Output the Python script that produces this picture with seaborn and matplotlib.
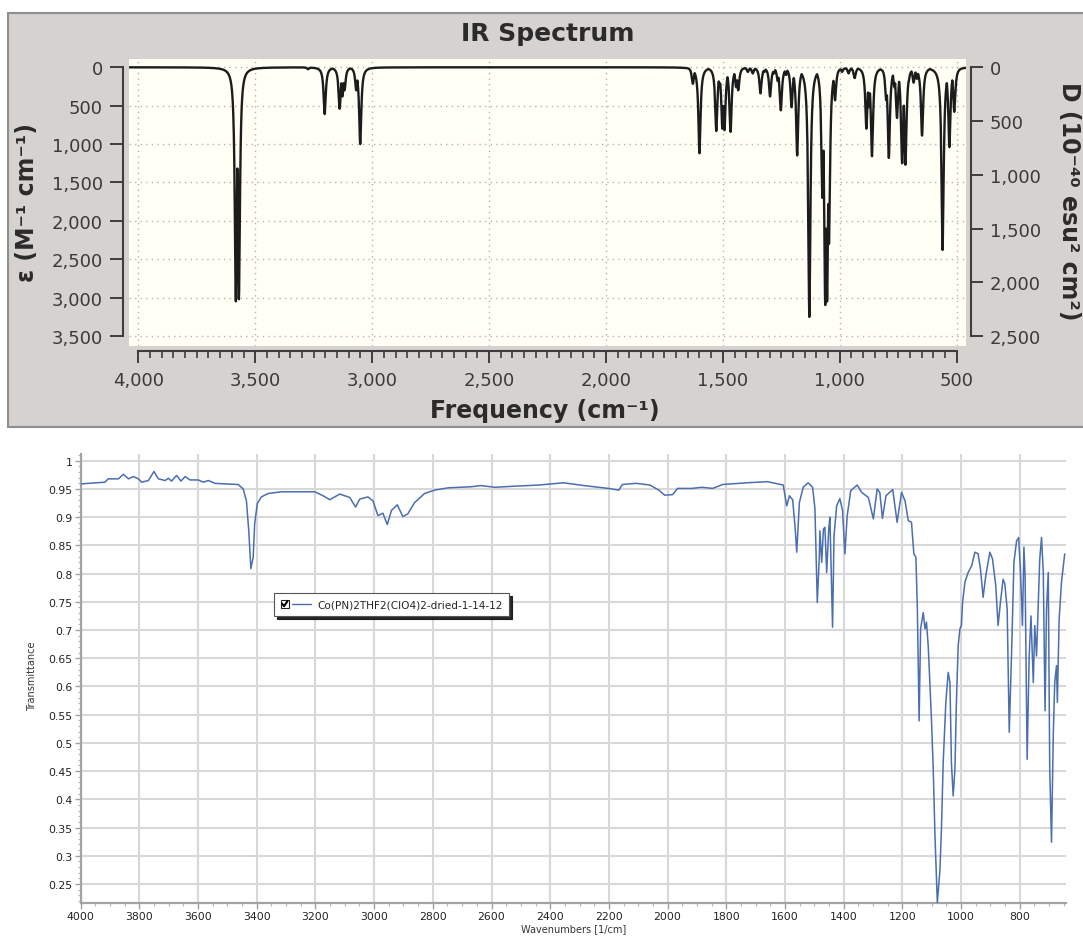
import numpy as np
import matplotlib
matplotlib.use("Agg")
import matplotlib.pyplot as plt
from matplotlib.patches import Rectangle
from matplotlib.lines import Line2D
from matplotlib.legend_handler import HandlerBase
from matplotlib.ticker import FuncFormatter, MultipleLocator
import seaborn as sns

# ---------------------------------------------------------------------------
# Computed IR spectrum: band centres (cm^-1) and molar absorptivity maxima
# ---------------------------------------------------------------------------
band_freq = [3583, 3570, 3274, 3203, 3139, 3127, 3118, 3068, 3051,
             1628, 1600, 1528, 1514, 1502, 1493, 1467, 1443, 1434, 1393,
             1372, 1339, 1322, 1298, 1282, 1265, 1252, 1230, 1206, 1182,
             1130, 1109, 1074, 1062, 1054, 1046, 1020, 990, 962, 936,
             886, 875, 862, 801, 790, 766, 755, 733, 719, 705,
             684, 670, 648, 578, 560, 531, 510]
band_eps = [3050, 3020, 25, 610, 540, 380, 300, 300, 1000,
            215, 1120, 830, 250, 800, 820, 840, 260, 300, 60,
            80, 340, 60, 380, 80, 180, 560, 100, 520, 1150,
            3250, 180, 1700, 3100, 3050, 2300, 430, 60, 80, 140,
            800, 520, 1160, 430, 1180, 260, 660, 1250, 1270, 180,
            200, 150, 890, 40, 2380, 1040, 580]
band_hwhm = 5.5  # Lorentzian half width at half height, cm^-1

freq_ticks = [4000, 3500, 3000, 2500, 2000, 1500, 1000, 500]
eps_ticks = [0, 500, 1000, 1500, 2000, 2500, 3000, 3500]
dip_ticks = [0, 500, 1000, 1500, 2000, 2500]

# ---------------------------------------------------------------------------
# Measured FTIR trace (transmittance)
# ---------------------------------------------------------------------------
sample_name = "Co(PN)2THF2(ClO4)2-dried-1-14-12"
meas_wavenumber = [
    4000, 3917, 3906, 3871, 3854, 3837, 3820, 3803, 3792, 3769,
    3750, 3735, 3712, 3701, 3690, 3673, 3658, 3644, 3627, 3599,
    3582, 3565, 3542, 3508, 3463, 3446, 3435, 3427, 3420, 3412,
    3407, 3398, 3384, 3361, 3316, 3202, 3174, 3151, 3117, 3083,
    3063, 3049, 3021, 3004, 2987, 2970, 2955, 2941, 2921, 2902,
    2885, 2862, 2828, 2794, 2748, 2669, 2635, 2589, 2520, 2438,
    2355, 2284, 2202, 2166, 2154, 2107, 2060, 2030, 2010, 1983,
    1966, 1918, 1883, 1847, 1812, 1729, 1659, 1651, 1606, 1594,
    1585, 1574, 1566, 1560, 1551, 1538, 1521, 1506, 1498, 1490,
    1483, 1481, 1475, 1469, 1464, 1458, 1451, 1447, 1438, 1433,
    1424, 1413, 1404, 1396, 1388, 1376, 1354, 1339, 1316, 1299,
    1286, 1277, 1268, 1256, 1233, 1218, 1203, 1191, 1180, 1169,
    1161, 1154, 1149, 1143, 1138, 1129, 1123, 1118, 1112, 1101,
    1095, 1089, 1081, 1072, 1067, 1061, 1052, 1044, 1038, 1033,
    1027, 1021, 1016, 1010, 1004, 999, 995, 987, 976, 970,
    964, 953, 942, 934, 925, 916, 902, 893, 882, 874,
    866, 857, 851, 843, 836, 828, 820, 811, 804, 798,
    791, 786, 782, 775, 768, 762, 754, 749, 743, 737,
    732, 726, 720, 714, 709, 703, 698, 692, 686, 681,
    675, 672, 666, 658, 647]
meas_transmittance = [
    0.959, 0.962, 0.968, 0.968, 0.976, 0.968, 0.972, 0.968, 0.962, 0.965,
    0.981, 0.968, 0.965, 0.969, 0.964, 0.974, 0.964, 0.972, 0.966, 0.966,
    0.962, 0.965, 0.960, 0.959, 0.958, 0.950, 0.929, 0.876, 0.809, 0.829,
    0.888, 0.924, 0.936, 0.942, 0.945, 0.945, 0.938, 0.931, 0.941, 0.935,
    0.918, 0.932, 0.936, 0.929, 0.903, 0.907, 0.887, 0.912, 0.922, 0.901,
    0.906, 0.926, 0.942, 0.948, 0.952, 0.954, 0.956, 0.953, 0.955, 0.957,
    0.961, 0.956, 0.951, 0.948, 0.958, 0.960, 0.957, 0.948, 0.939, 0.940,
    0.951, 0.951, 0.953, 0.951, 0.958, 0.961, 0.963, 0.962, 0.957, 0.920,
    0.938, 0.931, 0.885, 0.838, 0.926, 0.953, 0.961, 0.953, 0.915, 0.749,
    0.832, 0.876, 0.820, 0.879, 0.882, 0.802, 0.879, 0.900, 0.705, 0.867,
    0.920, 0.933, 0.912, 0.835, 0.903, 0.947, 0.957, 0.944, 0.935, 0.897,
    0.950, 0.944, 0.898, 0.938, 0.949, 0.891, 0.944, 0.929, 0.894, 0.891,
    0.835, 0.829, 0.737, 0.539, 0.702, 0.731, 0.702, 0.714, 0.672, 0.542,
    0.454, 0.335, 0.217, 0.276, 0.347, 0.465, 0.572, 0.625, 0.607, 0.465,
    0.406, 0.454, 0.572, 0.672, 0.702, 0.708, 0.749, 0.785, 0.802, 0.808,
    0.814, 0.838, 0.835, 0.808, 0.758, 0.796, 0.838, 0.826, 0.779, 0.708,
    0.749, 0.790, 0.782, 0.737, 0.519, 0.660, 0.820, 0.858, 0.864, 0.808,
    0.708, 0.847, 0.796, 0.471, 0.654, 0.725, 0.607, 0.708, 0.654, 0.749,
    0.826, 0.864, 0.802, 0.557, 0.737, 0.802, 0.454, 0.324, 0.513, 0.607,
    0.637, 0.572, 0.719, 0.785, 0.835]
wn_ticks = [4000, 3800, 3600, 3400, 3200, 3000, 2800, 2600, 2400, 2200,
            2000, 1800, 1600, 1400, 1200, 1000, 800]
t_ticks = [0.25, 0.3, 0.35, 0.4, 0.45, 0.5, 0.55, 0.6, 0.65, 0.7, 0.75,
           0.8, 0.85, 0.9, 0.95, 1.0]

# ---------------------------------------------------------------------------
sns.set_style("white")
plt.rcParams["font.family"] = ["DejaVu Sans"]

W, H = 1083, 937
fig = plt.figure(figsize=(W / 100, H / 100), dpi=100)
fig.patch.set_facecolor("white")


def fx(px):
    return px / W


def fy(py):
    return 1 - py / H


def pt(px):
    return px * 72 / 100


# grey window behind the computed spectrum
frame = Rectangle((fx(8), fy(428)), 1.2, (428 - 14) / H, transform=fig.transFigure,
                  facecolor="#d5d2cf", edgecolor="#8e8e8e", lw=1.5, zorder=0)
fig.add_artist(frame)

# ---------------------------- computed spectrum ----------------------------
ax1 = fig.add_axes([fx(129), fy(346.7), (966 - 129) / W, (346.7 - 60) / H])
ax1.set_facecolor("#fffff6")
for s in ax1.spines.values():
    s.set_visible(False)

grid_f = np.linspace(455, 4045, 7000)
centres = np.asarray(band_freq, dtype=float)[:, None]
heights = np.asarray(band_eps, dtype=float)[:, None]
profiles = heights * band_hwhm ** 2 / ((grid_f[None, :] - centres) ** 2 + band_hwhm ** 2)
eps_curve = profiles.max(axis=0)

sns.lineplot(x=grid_f, y=eps_curve, ax=ax1, color="#1c1c1c", lw=1.7, zorder=3)

eps_lo, eps_hi = -108, 3625
ax1.set_xlim(4040, 460)
ax1.set_ylim(eps_hi, eps_lo)
ax1.set_xlabel("")
ax1.set_ylabel("")

comma = FuncFormatter(lambda v, p: f"{v:,.0f}")
ax1.set_xticks(freq_ticks)
ax1.xaxis.set_minor_locator(MultipleLocator(50))
ax1.set_yticks(eps_ticks)
ax1.xaxis.set_major_formatter(comma)
ax1.yaxis.set_major_formatter(comma)

axis_col = "#3d3d3d"
for side, off in (("left", 6), ("bottom", 5)):
    sp = ax1.spines[side]
    sp.set_visible(True)
    sp.set_position(("outward", pt(off)))
    sp.set_color(axis_col)
    sp.set_linewidth(1.5)
ax1.spines["left"].set_bounds(0, 3500)
ax1.spines["bottom"].set_bounds(500, 4000)

ax1.tick_params(axis="x", which="major", bottom=True, length=pt(12), width=1.4,
                color=axis_col, labelsize=13, labelcolor="#3a3a3a", pad=6)
ax1.tick_params(axis="x", which="minor", bottom=True, length=pt(7), width=1.2,
                color=axis_col)
ax1.tick_params(axis="y", which="major", left=True, length=pt(13), width=1.4,
                color=axis_col, labelsize=13, labelcolor="#3a3a3a", pad=5)
ax1.grid(True, which="major", linestyle=(0, (1, 3)), color="#b3b3b3", lw=1.0)
ax1.set_axisbelow(True)

ax1r = ax1.twinx()
scale = 2500 / 3500
ax1r.set_ylim(eps_hi * scale, eps_lo * scale)
ax1r.set_yticks(dip_ticks)
ax1r.yaxis.set_major_formatter(comma)
for s in ax1r.spines.values():
    s.set_visible(False)
sp = ax1r.spines["right"]
sp.set_visible(True)
sp.set_position(("outward", pt(5)))
sp.set_bounds(0, 2500)
sp.set_color(axis_col)
sp.set_linewidth(1.5)
ax1r.tick_params(axis="y", which="major", right=True, length=pt(12), width=1.4,
                 color=axis_col, labelsize=13, labelcolor="#3a3a3a", pad=5)
ax1r.grid(False)

fig.text(fx(548), fy(34), "IR Spectrum", fontsize=18, fontweight="bold",
         color="#2b2b2b", ha="center", va="center")
fig.text(fx(545), fy(411), "Frequency (cm⁻¹)", fontsize=17,
         fontweight="bold", color="#2b2b2b", ha="center", va="center")
fig.text(fx(27), fy(203), "ε (M⁻¹ cm⁻¹)", fontsize=17,
         fontweight="bold", color="#2b2b2b", ha="center", va="center", rotation=90)
fig.text(fx(1069), fy(201), "D (10⁻⁴⁰ esu² cm²)",
         fontsize=17, fontweight="bold", color="#2b2b2b", ha="center", va="center",
         rotation=270)

# ---------------------------- measured spectrum ----------------------------
ax2 = fig.add_axes([fx(80.6), fy(904), (1066 - 80.6) / W, (904 - 455) / H])
ax2.set_facecolor("white")
line_col = "#4a6eb0"
sns.lineplot(x=meas_wavenumber, y=meas_transmittance, ax=ax2, color=line_col,
             lw=1.1, sort=False, label=sample_name, zorder=3)
ax2.set_xlim(4000, 642.6)
ax2.set_ylim(0.2163, 1.012)
ax2.set_xlabel("")
ax2.set_ylabel("")
ax2.set_xticks(wn_ticks)
ax2.xaxis.set_minor_locator(MultipleLocator(50))
ax2.set_yticks(t_ticks)
ax2.yaxis.set_minor_locator(MultipleLocator(0.01))
ax2.xaxis.set_major_formatter(FuncFormatter(lambda v, p: f"{v:.0f}"))
ax2.yaxis.set_major_formatter(FuncFormatter(lambda v, p: f"{round(v, 2):g}"))
for side in ("top", "right"):
    ax2.spines[side].set_visible(False)
for side in ("left", "bottom"):
    ax2.spines[side].set_color("#a3a3a3")
    ax2.spines[side].set_linewidth(1.6)
ax2.tick_params(axis="both", which="major", bottom=True, left=True, length=4,
                width=1.0, color="#a3a3a3", labelsize=7.8, labelcolor="#222222", pad=2)
ax2.tick_params(axis="both", which="minor", bottom=True, left=True, length=2.5,
                width=0.8, color="#b5b5b5")
ax2.grid(True, which="major", color="#d8d8d8", lw=1.5)
ax2.set_axisbelow(True)

fig.text(fx(32), fy(676), "Transmittance", fontsize=7, color="#333333",
         ha="center", va="center", rotation=90)
fig.text(fx(574), fy(929), "Wavenumbers [1/cm]", fontsize=7, color="#333333",
         ha="center", va="center")


class CheckedEntry(HandlerBase):
    """Legend entry drawn as a ticked check box followed by the line sample."""

    def create_artists(self, legend, orig_handle, xdescent, ydescent, width,
                       height, fontsize, trans):
        s = height * 1.05
        x0 = -xdescent
        y0 = -ydescent + (height - s) / 2
        box = Rectangle((x0, y0), s, s, facecolor="white", edgecolor="#222222",
                        lw=0.8, transform=trans)
        tick = Line2D([x0 + 0.18 * s, x0 + 0.42 * s, x0 + 0.85 * s],
                      [y0 + 0.52 * s, y0 + 0.2 * s, y0 + 0.82 * s],
                      color="black", lw=1.5, transform=trans)
        stroke = Line2D([x0 + s * 1.45, x0 + width], [y0 + s / 2] * 2,
                        color=orig_handle.get_color(), lw=1.0, transform=trans)
        return [box, tick, stroke]


handles, labels = ax2.get_legend_handles_labels()
ax2.legend(handles, labels, handler_map={Line2D: CheckedEntry()},
           loc="upper left", bbox_to_anchor=(0.1967, 0.690), borderaxespad=0,
           frameon=True, fancybox=False, shadow={"color": "#111111", "alpha": 0.9},
           edgecolor="#555555", framealpha=1, fontsize=7.6, handlelength=2.9,
           handletextpad=0.6, borderpad=0.6)
ax2.get_legend().get_frame().set_linewidth(0.8)

fig.savefig("out.png", dpi=100, facecolor="white")
